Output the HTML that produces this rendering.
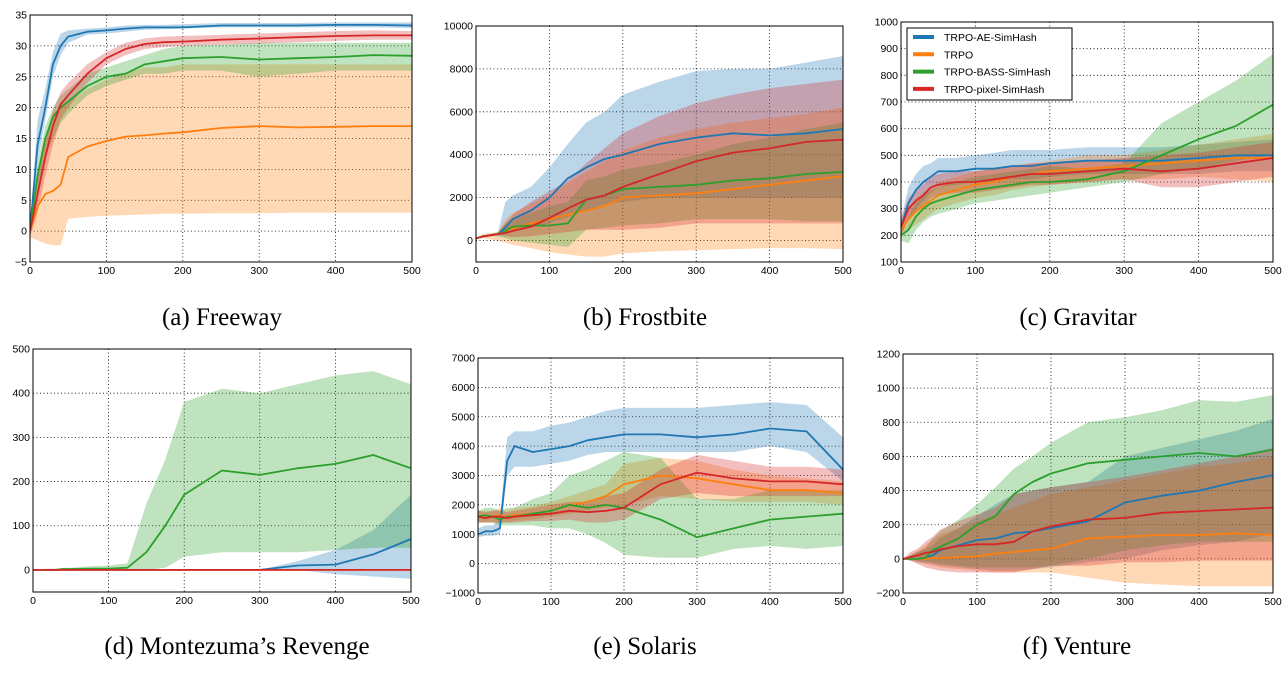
<!DOCTYPE html>
<html><head><meta charset="utf-8"><style>
html,body{margin:0;padding:0;background:#fff;}
svg{display:block;}
.tick{font-family:"Liberation Sans","DejaVu Sans",sans-serif;font-size:10.5px;fill:#000;}
.cap{font-family:"Liberation Serif",serif;font-size:25px;fill:#000;}
</style></head><body>
<svg id="fig" width="1283" height="679" viewBox="0 0 1283 679" xmlns="http://www.w3.org/2000/svg"></svg>
<script>
const xs=[0,10,20,30,40,50,75,100,125,150,175,200,250,300,350,400,450,500];
const seriesNames=["TRPO-AE-SimHash","TRPO","TRPO-BASS-SimHash","TRPO-pixel-SimHash"];
const colors=["#1f77b4","#ff7f0e","#2ca02c","#d62728"];
const fills=["#1f77b4","#ff7f0e","#2ca02c","#d62728"];
// Freeway
const aMean=[[0,14,20,27,30,31.5,32.3,32.5,32.8,33,33,33,33.3,33.3,33.3,33.4,33.4,33.3],[0,4,6,6.5,7.5,12,13.7,14.6,15.3,15.5,15.8,16,16.7,17,16.8,16.9,17,17],[0,9,15,18.5,20,21,23.5,25,25.5,27,27.5,28,28.2,27.8,28,28.2,28.5,28.4],[0,6,12,17,20.5,22,25.5,28,29.5,30.3,30.6,30.7,31,31.2,31.4,31.6,31.7,31.7]];
const aLo=[[-1,11,18,25,28.5,30.5,31.8,32,32.3,32.6,32.7,32.8,33,33,33,33,33,32.9],[-1,-1.5,-2,-2.3,-2.3,2,2.3,2.5,2.6,2.7,2.8,2.8,2.9,2.9,3,3,3,3],[-1,6,12,15,17.5,19,22,23.5,24.5,25.5,25.5,26,26,25,25.5,26,26,26],[-1,3,9,14,18,20,24,27,28.5,29.5,29.8,30,30.2,30.4,30.6,30.8,31,31]];
const aHi=[[1,18,23,29,32,32.5,32.8,33,33.3,33.4,33.4,33.5,33.7,33.7,33.7,33.8,33.8,33.8],[1,8,15,19,20,21,23,24.5,25.5,26.5,26.5,27,27,27,27,27,27,27],[1,11,17,20,22,23,25.5,26.5,27.5,28.5,29.5,30,30.2,30.5,30.5,30.5,30.5,30.5],[1,9,15,19.5,22.5,24,27,29,30.5,31.2,31.5,31.6,31.8,32,32.2,32.4,32.5,32.4]];
// Frostbite
const bMean=[[100,200,250,300,600,1000,1400,2000,2900,3400,3800,4000,4500,4800,5000,4900,5000,5200],[100,200,250,300,450,550,800,1000,1200,1400,1600,2000,2100,2200,2400,2600,2800,3000],[100,200,250,300,450,650,700,700,800,1900,2100,2400,2500,2600,2800,2900,3100,3200],[100,200,250,300,350,450,650,1050,1500,1900,2100,2500,3100,3700,4100,4300,4600,4700]];
const bLo=[[100,150,200,250,300,400,600,800,1100,1400,1700,1800,2000,2000,2000,2000,2000,2000],[100,100,50,0,-100,-200,-350,-550,-650,-750,-750,-600,-500,-450,-400,-350,-350,-400],[100,150,200,200,100,0,-100,-200,-300,500,600,700,800,1000,1000,1000,900,900],[100,150,200,250,200,150,200,300,400,500,500,500,600,800,800,800,800,800]];
const bHi=[[100,250,300,400,1800,2100,2500,3400,4500,5500,6000,6800,7400,7900,8000,8000,8300,8600],[100,300,350,400,1000,1300,1700,2100,2700,3200,3700,4200,4800,5200,5500,5700,5900,6200],[100,250,300,350,800,1000,1300,1600,1800,2800,3000,3300,3600,4000,4500,4800,5200,5500],[100,250,300,350,800,1200,1800,2300,2800,3600,4300,5000,5800,6400,6800,7100,7300,7500]];
// Gravitar
const cMean=[[230,320,370,400,420,440,440,450,450,460,460,470,480,480,480,490,500,500],[220,260,290,310,330,350,370,390,400,420,430,440,450,460,470,480,490,490],[200,220,270,300,320,330,350,370,380,390,400,400,410,440,500,560,610,690],[230,300,330,350,380,390,400,400,410,420,430,430,440,450,440,450,470,490]];
const cLo=[[200,260,300,330,360,380,390,400,400,410,410,420,430,430,430,430,440,440],[190,220,240,260,280,300,320,340,350,370,380,390,400,410,410,420,410,400],[180,170,220,250,270,280,300,320,330,340,350,360,380,400,430,450,480,500],[200,260,290,310,340,350,360,360,370,380,390,390,400,410,380,380,400,420]];
const cHi=[[260,380,430,460,470,490,490,500,510,520,520,520,530,530,530,540,550,560],[250,300,340,360,380,400,420,440,450,460,470,480,500,500,520,540,560,580],[220,270,320,350,370,380,400,420,430,440,450,460,450,470,620,700,780,880],[260,340,370,390,420,430,440,440,450,460,470,470,480,490,500,510,530,550]];
// Montezuma
const dMean=[[0,0,0,0,0,0,0,0,0,0,0,0,0,0,10,12,35,70],[0,0,0,0,0,0,0,0,0,0,0,0,0,0,0,0,0,0],[0,0,0,0,2,2,3,3,5,40,100,170,225,215,230,240,260,230],[0,0,0,0,0,0,0,0,0,0,0,0,0,0,0,0,0,0]];
const dLo=[[0,0,0,0,0,0,0,0,0,0,0,0,0,0,0,-10,-15,-20],[0,0,0,0,0,0,0,0,0,0,0,0,0,0,0,0,0,0],[0,0,0,0,0,0,0,0,0,0,5,30,40,40,40,45,50,50],[0,0,0,0,0,0,0,0,0,0,0,0,0,0,0,0,0,0]];
const dHi=[[0,0,0,0,0,0,0,0,0,0,0,0,0,0,20,45,90,170],[0,0,0,0,0,0,0,0,0,0,0,0,0,0,0,0,0,0],[0,2,3,3,5,5,8,10,15,150,250,380,410,400,420,440,450,420],[0,0,0,0,0,0,0,0,0,0,0,0,0,0,0,0,0,0]];
// Solaris
const eMean=[[1000,1100,1100,1200,3500,4000,3800,3900,4000,4200,4300,4400,4400,4300,4400,4600,4500,3200],[1600,1600,1600,1650,1600,1650,1700,1800,2000,2100,2300,2700,3000,2900,2700,2500,2500,2400],[1600,1650,1600,1500,1600,1600,1700,1800,2000,1900,2000,1900,1500,900,1200,1500,1600,1700],[1600,1550,1600,1600,1550,1600,1650,1700,1800,1750,1800,1900,2700,3100,2900,2800,2800,2700]];
const eLo=[[900,950,950,1000,3000,3300,3300,3400,3500,3700,3800,3800,3800,3800,3800,4000,3800,2800],[1400,1400,1400,1400,1400,1450,1500,1600,1700,1800,1900,2000,2300,2200,2100,2100,2100,2000],[1400,1400,1400,1300,1300,1300,1300,1200,1200,1000,700,300,200,200,500,600,500,600],[1400,1400,1400,1400,1400,1400,1450,1450,1500,1400,1400,1500,2200,2400,2300,2300,2300,2300]];
const eHi=[[1200,1300,1300,1500,4300,4500,4500,4700,4800,5000,5200,5300,5300,5300,5400,5500,5400,4300],[1800,1800,1800,1900,1800,1900,1950,2100,2300,2500,2700,3400,3600,3500,3200,3000,2900,2800],[1800,1900,1900,1800,1900,1900,2200,2400,3000,3200,3500,3800,3600,2200,2200,2500,2500,2500],[1800,1750,1800,1800,1750,1800,1900,2000,2100,2100,2300,2400,3200,3700,3500,3300,3300,3200]];
// Venture
const fMean=[[0,0,0,5,20,50,80,110,120,150,160,180,220,330,370,400,450,490],[0,0,0,0,5,5,10,15,30,40,50,60,120,130,140,140,150,140],[0,0,0,5,50,70,120,200,250,380,450,500,560,580,600,620,600,640],[0,10,20,35,40,55,75,85,85,100,160,190,230,240,270,280,290,300]];
const fLo=[[0,-10,-20,-25,-30,-40,-50,-60,-70,-70,-60,-50,-20,0,50,80,100,150],[0,-10,-20,-30,-40,-50,-60,-70,-80,-80,-80,-80,-110,-140,-150,-160,-160,-160],[0,-5,-10,-15,-20,-30,-40,-50,-50,-50,-50,-40,0,50,80,100,100,100],[0,-10,-30,-50,-60,-70,-80,-80,-80,-80,-60,-40,-40,-20,-20,-10,-10,-10]];
const fHi=[[0,20,40,60,80,120,180,250,320,380,400,420,450,600,650,700,750,820],[0,20,50,80,110,140,180,220,260,300,340,380,420,460,500,540,560,600],[0,20,40,60,120,160,230,320,420,530,600,680,800,830,870,930,920,960],[0,40,60,100,130,170,220,260,300,380,400,420,450,480,520,560,600,650]];
const xTicks=[0,100,200,300,400,500];
const aTicks=[-5,0,5,10,15,20,25,30,35];
const bTicks=[0,2000,4000,6000,8000,10000];
const cTicks=[100,200,300,400,500,600,700,800,900,1000];
const dTicks=[0,100,200,300,400,500];
const eTicks=[-1000,0,1000,2000,3000,4000,5000,6000,7000];
const fTicks=[-200,0,200,400,600,800,1000,1200];

const NS="http://www.w3.org/2000/svg";
const fig=document.getElementById('fig');
function mk(tag,attrs,parent){const e=document.createElementNS(NS,tag);for(const k in attrs)e.setAttribute(k,attrs[k]);(parent||fig).appendChild(e);return e;}

const panels=[
 {id:"freeway",cap:"(a) Freeway",capX:222,capY:325,L:30,R:412,T:15,B:262,y0:-5,y1:35,ticks:aTicks,m:aMean,lo:aLo,hi:aHi},
 {id:"frostbite",cap:"(b) Frostbite",capX:645,capY:325,L:476,R:843,T:26,B:262,y0:-1000,y1:10000,ticks:bTicks,m:bMean,lo:bLo,hi:bHi},
 {id:"gravitar",cap:"(c) Gravitar",capX:1078,capY:325,L:901,R:1273,T:22,B:262,y0:100,y1:1000,ticks:cTicks,m:cMean,lo:cLo,hi:cHi,legend:true},
 {id:"montezuma",cap:"(d) Montezuma\u2019s Revenge",capX:237,capY:654,L:33,R:411,T:349,B:592,y0:-50,y1:500,ticks:dTicks,m:dMean,lo:dLo,hi:dHi},
 {id:"solaris",cap:"(e) Solaris",capX:645,capY:654,L:478,R:843,T:358,B:593,y0:-1000,y1:7000,ticks:eTicks,m:eMean,lo:eLo,hi:eHi},
 {id:"venture",cap:"(f) Venture",capX:1077,capY:654,L:903,R:1273,T:354,B:593,y0:-200,y1:1200,ticks:fTicks,m:fMean,lo:fLo,hi:fHi}
];
function fmt(v){return v<0?"\u2212"+(-v):String(v);}
panels.forEach(p=>{
  const g=mk('g',{});
  
  
  const X=v=>p.L+(v-0)/(500-0)*(p.R-p.L);
  const Y=v=>p.B-(v-p.y0)/(p.y1-p.y0)*(p.B-p.T);
  const clipId='clip-'+p.id;
  const cp=mk('clipPath',{id:clipId},g);mk('rect',{x:p.L,y:p.T,width:p.R-p.L,height:p.B-p.T},cp);
  const grid=mk('g',{stroke:'#000','stroke-width':0.8,'stroke-dasharray':'1,2.5'},g);
  
  
  xTicks.forEach(t=>mk('line',{x1:X(t),x2:X(t),y1:p.T,y2:p.B},grid));
  p.ticks.forEach(t=>mk('line',{x1:p.L,x2:p.R,y1:Y(t),y2:Y(t)},grid));
  const plot=mk('g',{'clip-path':'url(#'+clipId+')'},g);
  for(let s=0;s<4;s++){
    let d='';
    xs.forEach((x,i)=>{d+=(i?'L':'M')+X(x).toFixed(1)+','+Y(p.hi[s][i]).toFixed(1);});
    for(let i=xs.length-1;i>=0;i--)d+='L'+X(xs[i]).toFixed(1)+','+Y(p.lo[s][i]).toFixed(1);
    const band=mk('path',{d:d+'Z',fill:fills[s],'fill-opacity':0.3,stroke:'none'},plot);
    
    
  }
  for(let s=0;s<4;s++){
    let d='';
    xs.forEach((x,i)=>{d+=(i?'L':'M')+X(x).toFixed(1)+','+Y(p.m[s][i]).toFixed(1);});
    const ln=mk('path',{d:d,fill:'none',stroke:colors[s],'stroke-width':1.8,'stroke-linejoin':'round'},plot);
    
    
  }
  const frame=mk('rect',{x:p.L,y:p.T,width:p.R-p.L,height:p.B-p.T,fill:'none',stroke:'#000','stroke-width':1},g);
  
  
  xTicks.forEach(t=>{
    const tx=mk('text',{x:X(t),y:p.B+12,'text-anchor':'middle',class:'tick'},g);tx.textContent=fmt(t);
    
    
  });
  p.ticks.forEach(t=>{
    const tx=mk('text',{x:p.L-3,y:Y(t)+3.5,'text-anchor':'end',class:'tick'},g);tx.textContent=fmt(t);
    
    
  });
  const cap=mk('text',{x:p.capX,y:p.capY,'text-anchor':'middle',class:'cap'},g);cap.textContent=p.cap;
  
  
  if(p.legend){
    const lg=mk('g',{},g);
    
    
    mk('rect',{x:907,y:28,width:165,height:72,fill:'#fff',stroke:'#000','stroke-width':1},lg);
    seriesNames.forEach((n,i)=>{
      const yy=37+i*17.3;
      mk('line',{x1:913,x2:934,y1:yy,y2:yy,stroke:colors[i],'stroke-width':4},lg);
      const t=mk('text',{x:944,y:yy+4,class:'tick','font-size':'11'},lg);t.textContent=n;
      
      
    });
  }
});
</script>
</body></html>
